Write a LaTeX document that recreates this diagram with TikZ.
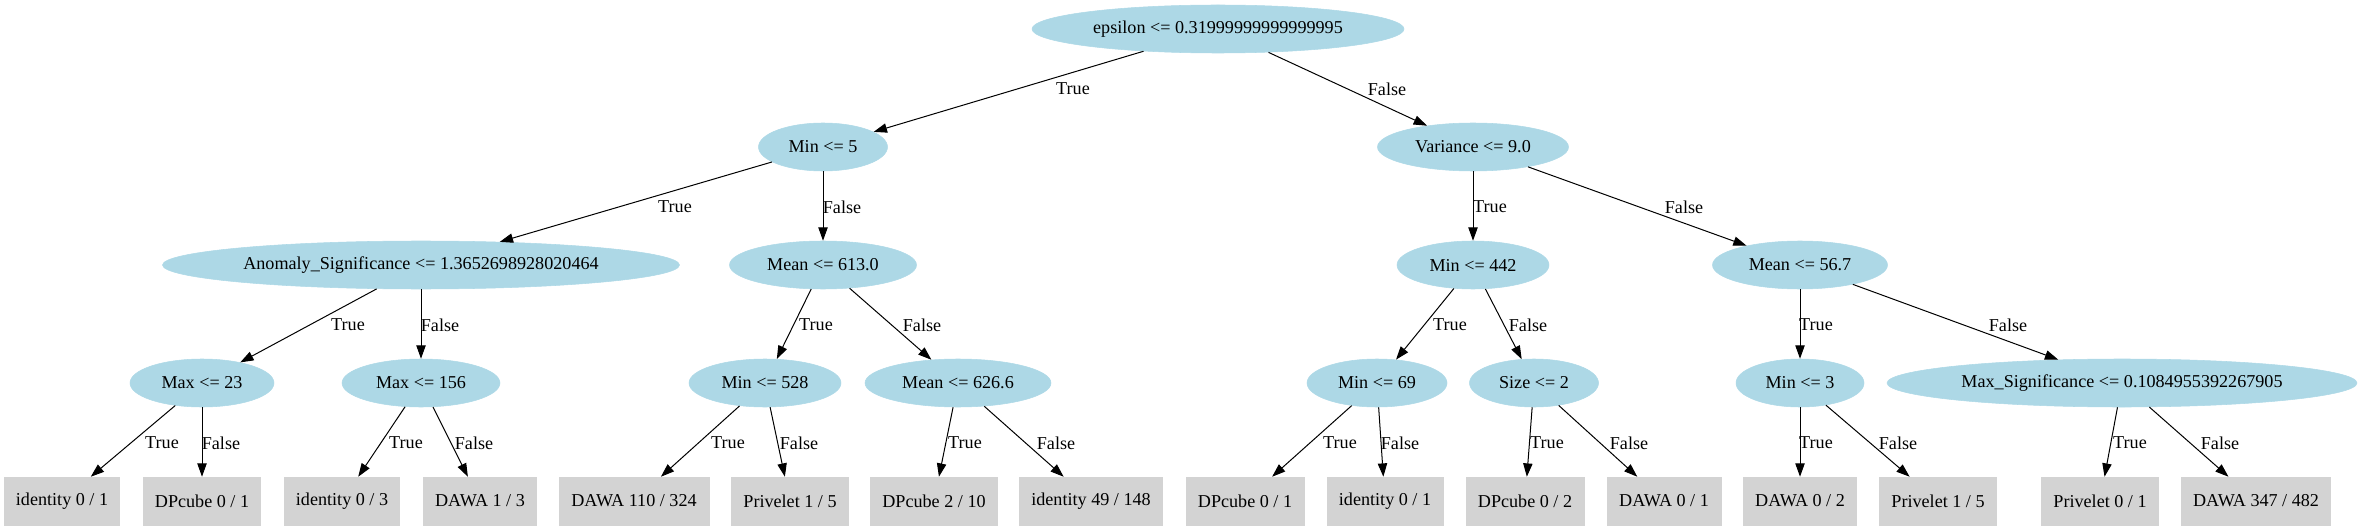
\documentclass[tikz,border=0pt]{standalone}
\usepackage{fontspec}
\setmainfont{Liberation Serif}
\usetikzlibrary{shapes.geometric,arrows.meta}
\definecolor{nodeblue}{HTML}{ADD8E6}
\definecolor{leafgrey}{HTML}{D3D3D3}
\tikzset{
  every node/.style={font=\fontsize{13.6pt}{16pt}\selectfont},
  split/.style={ellipse, fill=nodeblue, draw=nodeblue, inner sep=0pt, minimum height=48*0.75pt, minimum width=#1*0.75pt},
  leaf/.style={rectangle, fill=leafgrey, draw=leafgrey, inner sep=0pt, minimum height=48*0.75pt, minimum width=#1*0.75pt},
  edge/.style={draw=black, line width=0.75pt, -{Triangle[length=10pt,width=7pt]}},
  lbl/.style={inner sep=0pt}
}
\begin{document}
\begin{tikzpicture}[x=0.75pt,y=-0.75pt]
\useasboundingbox (0,0) rectangle (2363,531);
% level 0
\node[split=372] (root) at (1218,29) {epsilon <= 0.31999999999999995};
% level 1
\node[split=129] (min5) at (823,147) {Min <= 5};
\node[split=191] (var) at (1473,147) {Variance <= 9.0};
% level 2
\node[split=517] (anom) at (421,265) {Anomaly\_Significance <= 1.3652698928020464};
\node[split=187] (meanA) at (823,265) {Mean <= 613.0};
\node[split=152] (minB) at (1473,265) {Min <= 442};
\node[split=175] (meanC) at (1800,265) {Mean <= 56.7};
% level 3
\node[split=144] (maxA) at (202,383) {Max <= 23};
\node[split=158] (maxB) at (421,383) {Max <= 156};
\node[split=152] (minC) at (765,383) {Min <= 528};
\node[split=186] (meanD) at (958,383) {Mean <= 626.6};
\node[split=140] (minD) at (1377,383) {Min <= 69};
\node[split=129] (size) at (1534,383) {Size <= 2};
\node[split=128] (minE) at (1800,383) {Min <= 3};
\node[split=470] (maxsig) at (2122,383) {Max\_Significance <= 0.1084955392267905};
% leaves
\node[leaf=115] (f1) at (62,501) {identity 0 / 1};
\node[leaf=117] (f2) at (202,501) {DPcube 0 / 1};
\node[leaf=115] (f3) at (342,501) {identity 0 / 3};
\node[leaf=113] (f4) at (480,501) {DAWA 1 / 3};
\node[leaf=150] (f5) at (634,501) {DAWA 110 / 324};
\node[leaf=117] (f6) at (790,501) {Privelet 1 / 5};
\node[leaf=127] (f7) at (934,501) {DPcube 2 / 10};
\node[leaf=143] (f8) at (1091,501) {identity 49 / 148};
\node[leaf=118] (f9) at (1245,501) {DPcube 0 / 1};
\node[leaf=116] (f10) at (1385,501) {identity 0 / 1};
\node[leaf=118] (f11) at (1525,501) {DPcube 0 / 2};
\node[leaf=114] (f12) at (1664,501) {DAWA 0 / 1};
\node[leaf=113] (f13) at (1800,501) {DAWA 0 / 2};
\node[leaf=117] (f14) at (1938,501) {Privelet 1 / 5};
\node[leaf=117] (f15) at (2100,501) {Privelet 0 / 1};
\node[leaf=149] (f16) at (2256,501) {DAWA 347 / 482};
% edges
\draw[edge] (root) -- (min5);
\draw[edge] (root) -- (var);
\draw[edge] (min5) -- (anom);
\draw[edge] (min5) -- (meanA);
\draw[edge] (var) -- (minB);
\draw[edge] (var) -- (meanC);
\draw[edge] (anom) -- (maxA);
\draw[edge] (anom) -- (maxB);
\draw[edge] (meanA) -- (minC);
\draw[edge] (meanA) -- (meanD);
\draw[edge] (minB) -- (minD);
\draw[edge] (minB) -- (size);
\draw[edge] (meanC) -- (minE);
\draw[edge] (meanC) -- (maxsig);
\draw[edge] (maxA) -- (f1);
\draw[edge] (maxA) -- (f2);
\draw[edge] (maxB) -- (f3);
\draw[edge] (maxB) -- (f4);
\draw[edge] (minC) -- (f5);
\draw[edge] (minC) -- (f6);
\draw[edge] (meanD) -- (f7);
\draw[edge] (meanD) -- (f8);
\draw[edge] (minD) -- (f9);
\draw[edge] (minD) -- (f10);
\draw[edge] (size) -- (f11);
\draw[edge] (size) -- (f12);
\draw[edge] (minE) -- (f13);
\draw[edge] (minE) -- (f14);
\draw[edge] (maxsig) -- (f15);
\draw[edge] (maxsig) -- (f16);
% edge labels
\node[lbl] (t1) at (1073,89) {True};
\node[lbl] (t2) at (1387,89) {False};
\node[lbl] (t3) at (675,207) {True};
\node[lbl] (t4) at (842,207) {False};
\node[lbl] (t5) at (1490,207) {True};
\node[lbl] (t6) at (1684,207) {False};
\node[lbl] (t7) at (348,325) {True};
\node[lbl] (t8) at (440,325) {False};
\node[lbl] (t9) at (816,325) {True};
\node[lbl] (t10) at (922,325) {False};
\node[lbl] (t11) at (1450,325) {True};
\node[lbl] (t12) at (1528,325) {False};
\node[lbl] (t13) at (1816,325) {True};
\node[lbl] (t14) at (2008,325) {False};
\node[lbl] (t15) at (162,443) {True};
\node[lbl] (t16) at (221,443) {False};
\node[lbl] (t17) at (406,443) {True};
\node[lbl] (t18) at (474,443) {False};
\node[lbl] (t19) at (728,443) {True};
\node[lbl] (t20) at (799,443) {False};
\node[lbl] (t21) at (965,443) {True};
\node[lbl] (t22) at (1056,443) {False};
\node[lbl] (t23) at (1340,443) {True};
\node[lbl] (t24) at (1400,443) {False};
\node[lbl] (t25) at (1547,443) {True};
\node[lbl] (t26) at (1629,443) {False};
\node[lbl] (t27) at (1816,443) {True};
\node[lbl] (t28) at (1898,443) {False};
\node[lbl] (t29) at (2130,443) {True};
\node[lbl] (t30) at (2220,443) {False};
\end{tikzpicture}
\end{document}
